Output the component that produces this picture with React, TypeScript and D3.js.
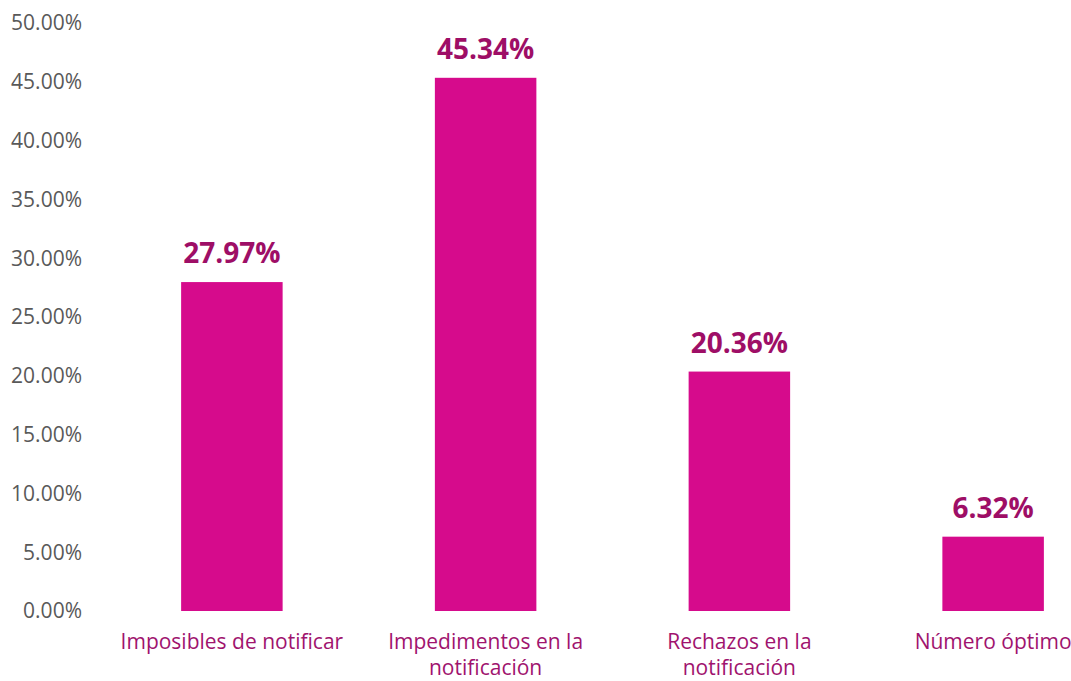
import React, { useEffect, useRef } from 'react';
import * as d3 from 'd3';

const categories = [
  'Imposibles de notificar',
  'Impedimentos en la notificación',
  'Rechazos en la notificación',
  'Número óptimo',
];
const values = [27.97, 45.34, 20.36, 6.32];
const yTicks = [0, 5, 10, 15, 20, 25, 30, 35, 40, 45, 50];

const BAR_COLOR = '#D60B8C';
const LABEL_COLOR = '#9E0E66';
const CAT_COLOR = '#A0136E';
const AXIS_COLOR = '#595959';
const FONT = '"Open Sans", "Noto Sans", sans-serif';

const App = () => {
  const ref = useRef<SVGSVGElement | null>(null);

  useEffect(() => {
    const width = 1071;
    const height = 681;
    const svg = d3.select(ref.current);
    svg.selectAll('*').remove();

    const x = d3.scaleBand<string>()
      .domain(categories)
      .range([105, 1120])
      .paddingInner(0.6)
      .paddingOuter(0.3);

    const y = d3.scaleLinear().domain([0, 50]).range([611, 23]);

    // y axis labels only, no line
    svg.append('g')
      .selectAll('text')
      .data(yTicks)
      .enter()
      .append('text')
      .attr('x', 82)
      .attr('y', d => y(d))
      .attr('dy', '0.35em')
      .attr('text-anchor', 'end')
      .style('font-family', FONT)
      .style('font-size', '21px')
      .style('fill', AXIS_COLOR)
      .text(d => d.toFixed(2) + '%');

    svg.append('g')
      .selectAll('rect')
      .data(values)
      .enter()
      .append('rect')
      .attr('x', (d, i) => x(categories[i])!)
      .attr('y', d => y(d))
      .attr('width', x.bandwidth())
      .attr('height', d => y(0) - y(d))
      .attr('fill', BAR_COLOR);

    svg.append('g')
      .selectAll('text')
      .data(values)
      .enter()
      .append('text')
      .attr('x', (d, i) => x(categories[i])! + x.bandwidth() / 2)
      .attr('y', d => y(d) - 19)
      .attr('text-anchor', 'middle')
      .style('font-family', FONT)
      .style('font-size', '28px')
      .style('font-weight', 'bold')
      .style('fill', LABEL_COLOR)
      .text(d => d.toFixed(2) + '%');

    // category labels, wrapped
    const maxW = 240;
    categories.forEach(cat => {
      const cx = x(cat)! + x.bandwidth() / 2;
      const t = svg.append('text')
        .attr('x', cx)
        .attr('y', 649)
        .attr('text-anchor', 'middle')
        .style('font-family', FONT)
        .style('font-size', '21px')
        .style('fill', CAT_COLOR);
      const words = cat.split(' ');
      let line: string[] = [];
      let tspan = t.append('tspan').attr('x', cx).attr('dy', 0);
      words.forEach(w => {
        line.push(w);
        tspan.text(line.join(' '));
        if ((tspan.node() as SVGTSpanElement).getComputedTextLength() > maxW && line.length > 1) {
          line.pop();
          tspan.text(line.join(' '));
          line = [w];
          tspan = t.append('tspan').attr('x', cx).attr('dy', 26).text(w);
        }
      });
    });

    svg.attr('width', width).attr('height', height);
  }, []);

  return (
    <svg ref={ref} width={1071} height={681}
      style={{ position: 'absolute', left: 0, top: 0, background: '#fff' }} />
  );
};

export default App;
